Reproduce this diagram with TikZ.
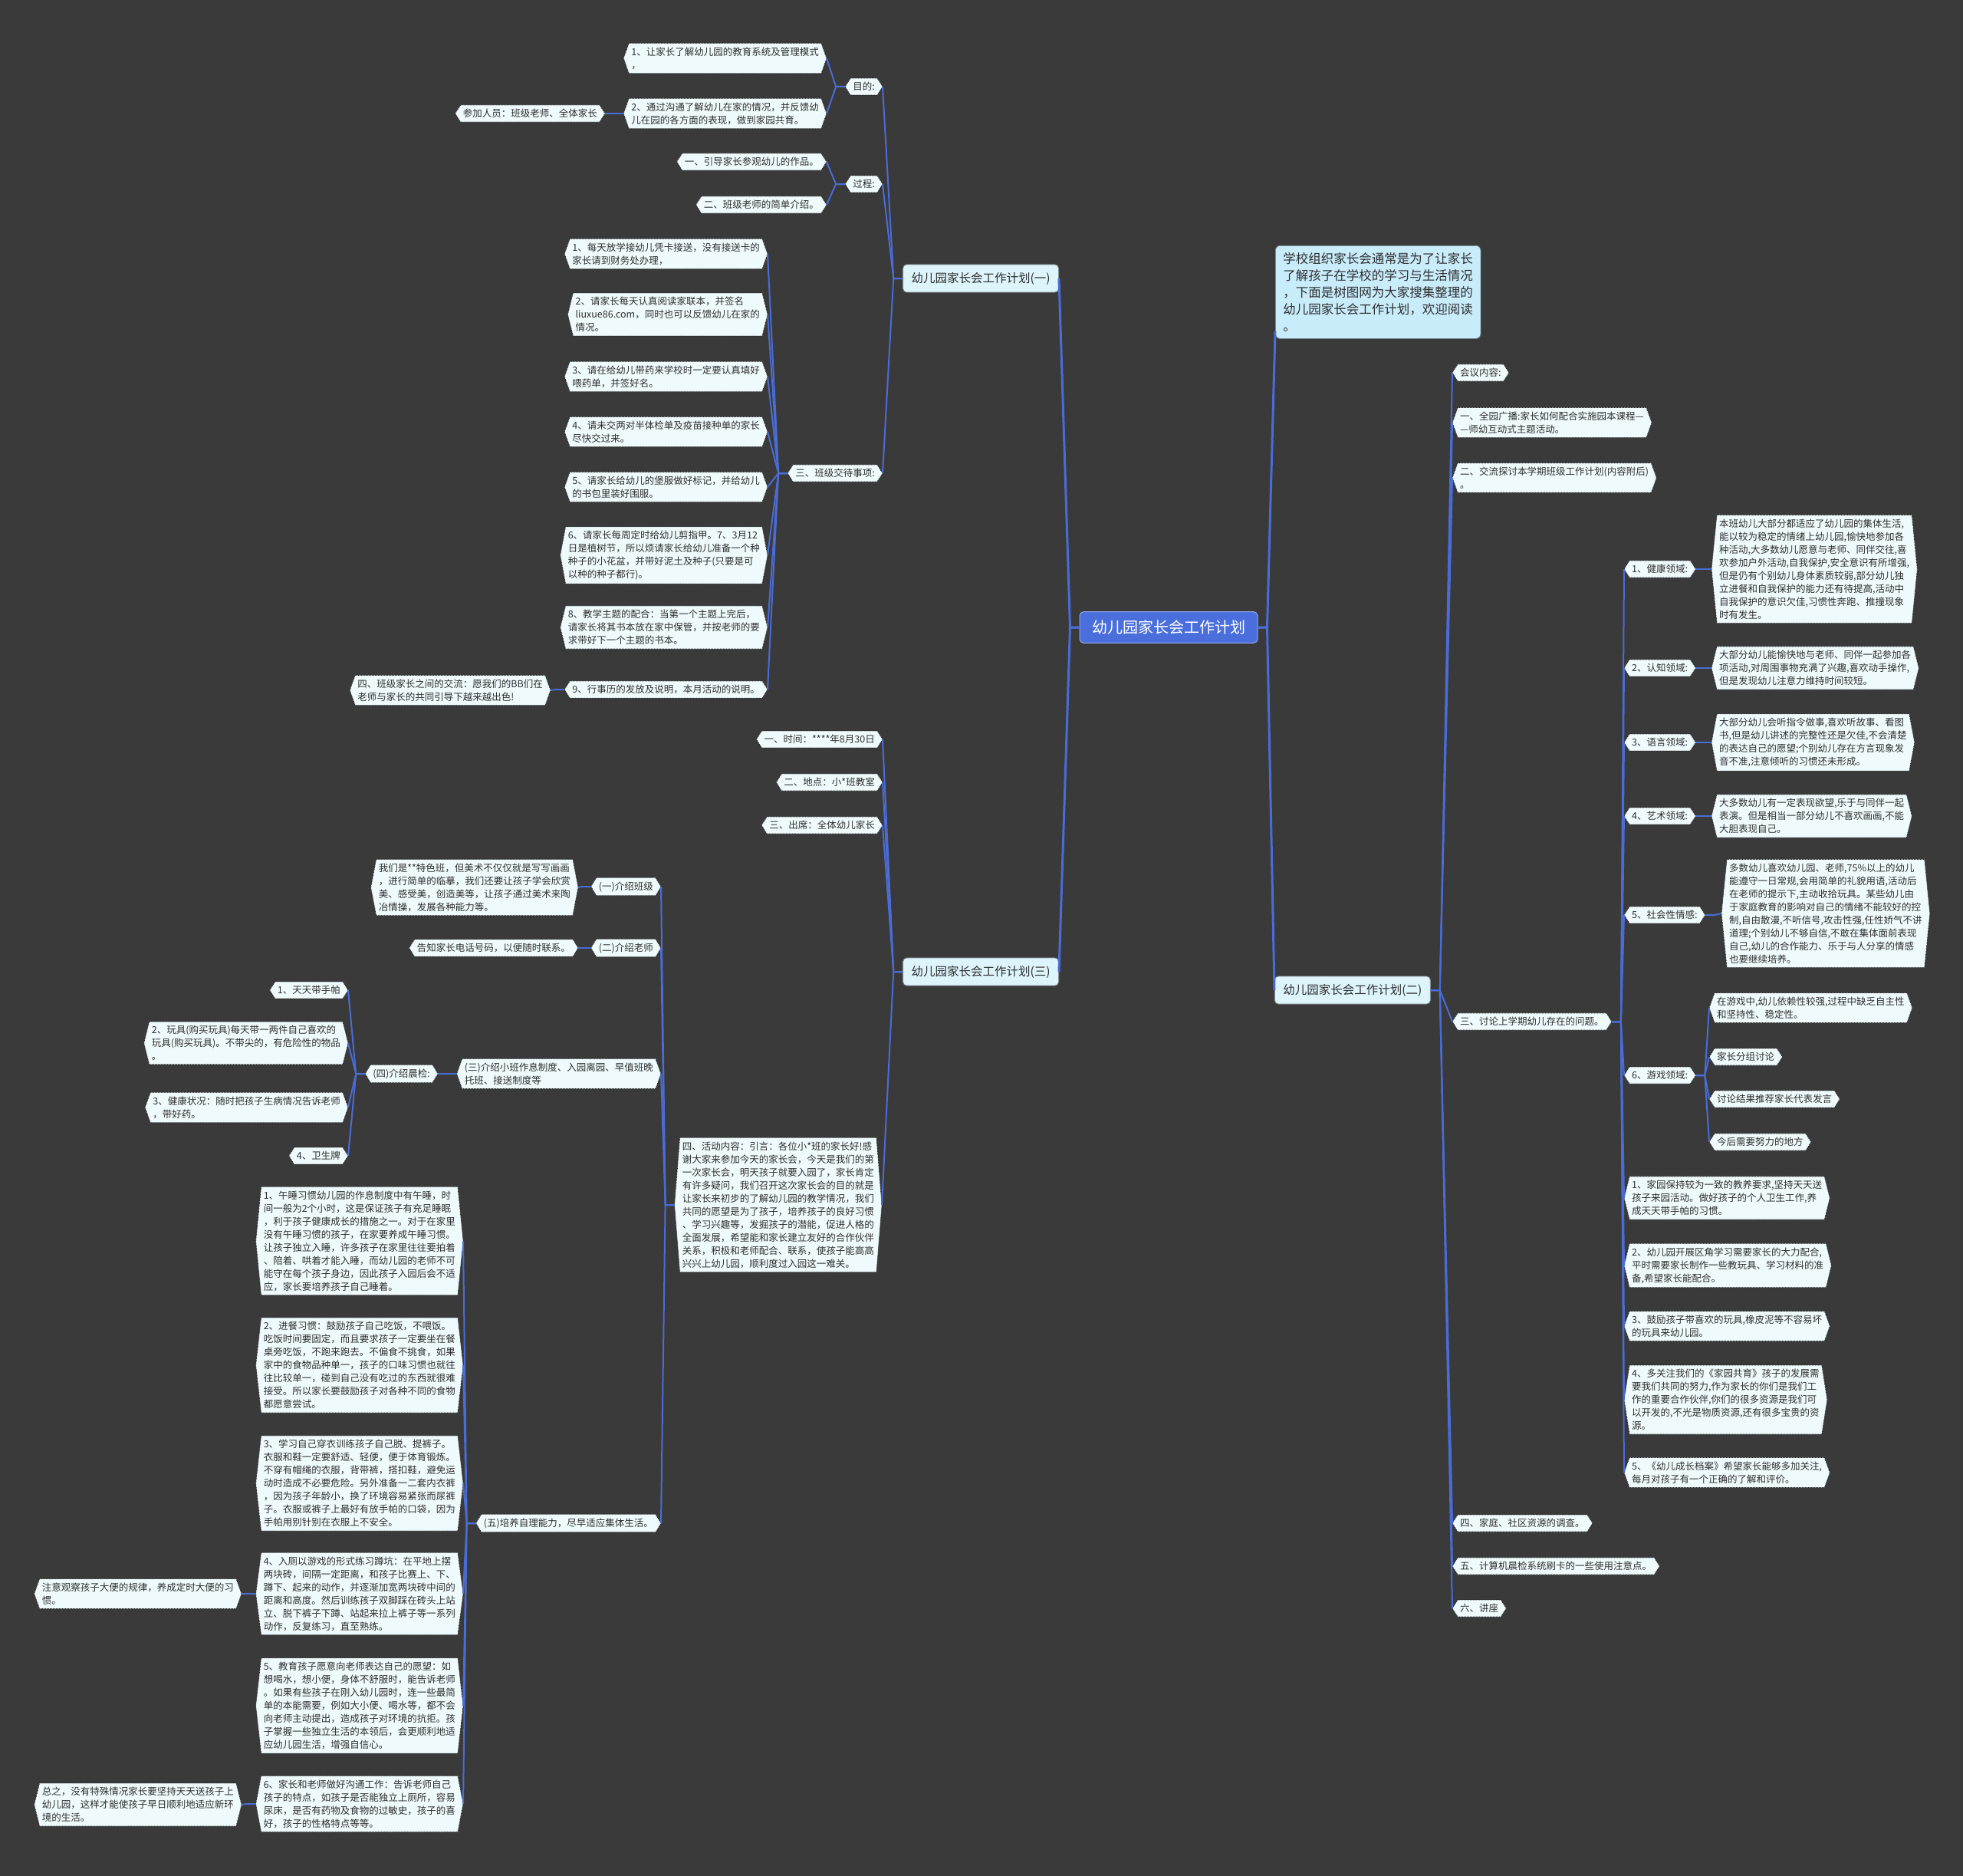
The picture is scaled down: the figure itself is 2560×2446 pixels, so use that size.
\documentclass[tikz,border=0pt]{standalone}
\usepackage{fontspec}
\newfontfamily\cjk{Noto Sans CJK SC}
\usetikzlibrary{calc}
\pgfdeclarelayer{back}
\pgfdeclarelayer{bg}
\pgfsetlayers{back,bg,main}
\definecolor{bgc}{HTML}{3A3A3A}
\definecolor{hexfill}{HTML}{EFFAFD}
\definecolor{hexdraw}{HTML}{202020}
\definecolor{linec}{HTML}{4A6CD6}
\definecolor{rootc}{HTML}{4A6FDC}
\definecolor{lonec}{HTML}{DDF4FB}
\definecolor{introc}{HTML}{C8ECFA}
\definecolor{textc}{HTML}{2E2E2E}
\tikzset{
  hx/.style={font=\cjk\fontsize{12.5}{17}\selectfont, text=textc, align=left,
    inner xsep=10pt, inner ysep=5pt,
    append after command={\pgfextra{\begin{pgfonlayer}{bg}
      \filldraw[fill=hexfill, draw=hexdraw, line width=0.8pt, dash pattern=on 1pt off 1pt]
        ([xshift=7pt]\tikzlastnode.north west) -- ([xshift=-7pt]\tikzlastnode.north east)
        -- (\tikzlastnode.east) -- ([xshift=-7pt]\tikzlastnode.south east)
        -- ([xshift=7pt]\tikzlastnode.south west) -- (\tikzlastnode.west) -- cycle;
      \end{pgfonlayer}}}},
  rootn/.style={fill=rootc, draw=rootc!60!white, line width=1pt, rounded corners=5pt,
    text=white, font=\cjk\fontsize{20}{24}\selectfont, inner xsep=16pt, inner ysep=11pt},
  lone/.style={fill=lonec, draw=lonec!60!black, line width=0.8pt, rounded corners=5pt,
    text=textc, font=\cjk\fontsize{15.5}{18}\selectfont, inner xsep=11pt, inner ysep=10pt},
  intron/.style={fill=introc, draw=introc!60!black, line width=0.8pt, rounded corners=6pt,
    text=textc, font=\cjk\fontsize{16.5}{22}\selectfont, align=left, inner xsep=10pt, inner ysep=9pt},
  conn/.style={draw=linec, line width=2pt, line join=round},
  rconn/.style={draw=linec, line width=3pt, line join=round}
}
\newcommand\lc[2]{\draw[conn] (#1.west) -- ++(-12pt,0) -- (#2.east);}
\newcommand\rc[2]{\draw[conn] (#1.east) -- ++(12pt,0) -- (#2.west);}
\begin{document}
\begin{tikzpicture}[x=1pt,y=-1pt]
\begin{pgfonlayer}{back}
\fill[bgc] (0,0) rectangle (2560,2446);
\end{pgfonlayer}
\useasboundingbox (0,0) rectangle (2560,2446);

% root and level 1
\node[rootn] (root) at (1524,818) {幼儿园家长会工作计划};
\node[lone, anchor=east] (p1) at (1381,363) {幼儿园家长会工作计划(一)};
\node[lone, anchor=east] (p3) at (1381,1267) {幼儿园家长会工作计划(三)};
\node[lone, anchor=west] (p2) at (1662,1291) {幼儿园家长会工作计划(二)};
\node[intron, anchor=north west] (intro) at (1663,320) {学校组织家长会通常是为了让家长\\了解孩子在学校的学习与生活情况\\，下面是树图网为大家搜集整理的\\幼儿园家长会工作计划，欢迎阅读\\。};

% ===== (一)
\node[hx, anchor=east] (a) at (1151,113) {目的:};
\node[hx, anchor=east] (a1) at (1078,76) {1、让家长了解幼儿园的教育系统及管理模式\\，};
\node[hx, anchor=east] (a2) at (1078,148) {2、通过沟通了解幼儿在家的情况，并反馈幼\\儿在园的各方面的表现，做到家园共育。};
\node[hx, anchor=east] (a2c) at (789,148) {参加人员：班级老师、全体家长};
\node[hx, anchor=east] (b) at (1151,240) {过程:};
\node[hx, anchor=east] (b1) at (1078,211) {一、引导家长参观幼儿的作品。};
\node[hx, anchor=east] (b2) at (1078,267) {二、班级老师的简单介绍。};
\node[hx, anchor=east] (c) at (1151,617) {三、班级交待事项:};
\node[hx, anchor=east] (c1) at (1001,331) {1、每天放学接幼儿凭卡接送，没有接送卡的\\家长请到财务处办理，};
\node[hx, anchor=east] (c2) at (1001,410) {2、请家长每天认真阅读家联本，并签名\\liuxue86.com，同时也可以反馈幼儿在家的\\情况。};
\node[hx, anchor=east] (c3) at (1001,491) {3、请在给幼儿带药来学校时一定要认真填好\\喂药单，并签好名。};
\node[hx, anchor=east] (c4) at (1001,563) {4、请未交两对半体检单及疫苗接种单的家长\\尽快交过来。};
\node[hx, anchor=east] (c5) at (1001,635) {5、请家长给幼儿的堡服做好标记，并给幼儿\\的书包里装好围服。};
\node[hx, anchor=east] (c6) at (1001,724) {6、请家长每周定时给幼儿剪指甲。7、3月12\\日是植树节，所以烦请家长给幼儿准备一个种\\种子的小花盆，并带好泥土及种子(只要是可\\以种的种子都行)。};
\node[hx, anchor=east] (c7) at (1001,818) {8、教学主题的配合：当第一个主题上完后，\\请家长将其书本放在家中保管，并按老师的要\\求带好下一个主题的书本。};
\node[hx, anchor=east] (c8) at (1001,899) {9、行事历的发放及说明，本月活动的说明。};
\node[hx, anchor=east] (c8c) at (718,900) {四、班级家长之间的交流：愿我们的BB们在\\老师与家长的共同引导下越来越出色!};

% ===== (三)
\node[hx, anchor=east] (t1) at (1151,964) {一、时间：****年8月30日};
\node[hx, anchor=east] (t2) at (1151,1020) {二、地点：小*班教室};
\node[hx, anchor=east] (t3) at (1151,1076) {三、出席：全体幼儿家长};
\node[hx, anchor=east] (t4) at (1150,1571) {四、活动内容：引言：各位小*班的家长好!感\\谢大家来参加今天的家长会，今天是我们的第\\一次家长会，明天孩子就要入园了，家长肯定\\有许多疑问，我们召开这次家长会的目的就是\\让家长来初步的了解幼儿园的教学情况，我们\\共同的愿望是为了孩子，培养孩子的良好习惯\\、学习兴趣等，发掘孩子的潜能，促进人格的\\全面发展，希望能和家长建立友好的合作伙伴\\关系，积极和老师配合、联系，使孩子能高高\\兴兴上幼儿园，顺利度过入园这一难关。};
\node[hx, anchor=east] (d1) at (862,1156) {(一)介绍班级};
\node[hx, anchor=east] (d1c) at (754,1157) {我们是**特色班，但美术不仅仅就是写写画画\\，进行简单的临摹，我们还要让孩子学会欣赏\\美、感受美，创造美等，让孩子通过美术来陶\\冶情操，发展各种能力等。};
\node[hx, anchor=east] (d2) at (862,1236) {(二)介绍老师};
\node[hx, anchor=east] (d2c) at (754,1236) {告知家长电话号码，以便随时联系。};
\node[hx, anchor=east] (d3) at (862,1400) {(三)介绍小班作息制度、入园离园、早值班晚\\托班、接送制度等};
\node[hx, anchor=east] (d3c) at (571,1400) {(四)介绍晨检:};
\node[hx, anchor=east] (e1) at (454,1291) {1、天天带手帕};
\node[hx, anchor=east] (e2) at (454,1360) {2、玩具(购买玩具)每天带一两件自己喜欢的\\玩具(购买玩具)。不带尖的，有危险性的物品\\。};
\node[hx, anchor=east] (e3) at (454,1444) {3、健康状况：随时把孩子生病情况告诉老师\\，带好药。};
\node[hx, anchor=east] (e4) at (454,1507) {4、卫生牌};
\node[hx, anchor=east] (d5) at (862,1986) {(五)培养自理能力，尽早适应集体生活。};
\node[hx, anchor=east] (f1) at (604,1618) {1、午睡习惯幼儿园的作息制度中有午睡，时\\间一般为2个小时，这是保证孩子有充足睡眠\\，利于孩子健康成长的措施之一。对于在家里\\没有午睡习惯的孩子，在家要养成午睡习惯。\\让孩子独立入睡，许多孩子在家里往往要拍着\\、陪着、哄着才能入睡，而幼儿园的老师不可\\能守在每个孩子身边，因此孩子入园后会不适\\应，家长要培养孩子自己睡着。};
\node[hx, anchor=east] (f2) at (604,1780) {2、进餐习惯：鼓励孩子自己吃饭，不喂饭。\\吃饭时间要固定，而且要求孩子一定要坐在餐\\桌旁吃饭，不跑来跑去。不偏食不挑食，如果\\家中的食物品种单一，孩子的口味习惯也就往\\往比较单一，碰到自己没有吃过的东西就很难\\接受。所以家长要鼓励孩子对各种不同的食物\\都愿意尝试。};
\node[hx, anchor=east] (f3) at (604,1934) {3、学习自己穿衣训练孩子自己脱、提裤子。\\衣服和鞋一定要舒适、轻便，便于体育锻炼。\\不穿有帽绳的衣服，背带裤，搭扣鞋，避免运\\动时造成不必要危险。另外准备一二套内衣裤\\，因为孩子年龄小，换了环境容易紧张而尿裤\\子。衣服或裤子上最好有放手帕的口袋，因为\\手帕用别针别在衣服上不安全。};
\node[hx, anchor=east] (f4) at (604,2078) {4、入厕以游戏的形式练习蹲坑：在平地上摆\\两块砖，间隔一定距离，和孩子比赛上、下、\\蹲下、起来的动作，并逐渐加宽两块砖中间的\\距离和高度。然后训练孩子双脚踩在砖头上站\\立、脱下裤子下蹲、站起来拉上裤子等一系列\\动作，反复练习，直至熟练。};
\node[hx, anchor=east] (f5) at (604,2224) {5、教育孩子愿意向老师表达自己的愿望：如\\想喝水，想小便，身体不舒服时，能告诉老师\\。如果有些孩子在刚入幼儿园时，连一些最简\\单的本能需要，例如大小便、喝水等，都不会\\向老师主动提出，造成孩子对环境的抗拒。孩\\子掌握一些独立生活的本领后，会更顺利地适\\应幼儿园生活，增强自信心。};
\node[hx, anchor=east] (f6) at (604,2352) {6、家长和老师做好沟通工作：告诉老师自己\\孩子的特点，如孩子是否能独立上厕所，容易\\尿床，是否有药物及食物的过敏史，孩子的喜\\好，孩子的性格特点等等。};
\node[hx, anchor=east] (f4c) at (315,2078) {注意观察孩子大便的规律，养成定时大便的习\\惯。};
\node[hx, anchor=east] (f6c) at (315,2353) {总之，没有特殊情况家长要坚持天天送孩子上\\幼儿园，这样才能使孩子早日顺利地适应新环\\境的生活。};

% ===== (二)
\node[hx, anchor=west] (r0) at (1894,486) {会议内容:};
\node[hx, anchor=west] (r1) at (1894,551) {一、全园广播:家长如何配合实施园本课程—\\—师幼互动式主题活动。};
\node[hx, anchor=west] (r2) at (1894,623) {二、交流探讨本学期班级工作计划(内容附后)\\。};
\node[hx, anchor=west] (r3) at (1894,1332) {三、讨论上学期幼儿存在的问题。};
\node[hx, anchor=west] (r4) at (1894,1986) {四、家庭、社区资源的调查。};
\node[hx, anchor=west] (r5) at (1894,2042) {五、计算机晨检系统刷卡的一些使用注意点。};
\node[hx, anchor=west] (r6) at (1894,2097) {六、讲座};
\node[hx, anchor=west] (g1) at (2118,742) {1、健康领域:};
\node[hx, anchor=west] (g1t) at (2232,742) {本班幼儿大部分都适应了幼儿园的集体生活,\\能以较为稳定的情绪上幼儿园,愉快地参加各\\种活动,大多数幼儿愿意与老师、同伴交往,喜\\欢参加户外活动,自我保护,安全意识有所增强,\\但是仍有个别幼儿身体素质较弱,部分幼儿独\\立进餐和自我保护的能力还有待提高,活动中\\自我保护的意识欠佳,习惯性奔跑、推撞现象\\时有发生。};
\node[hx, anchor=west] (g2) at (2118,871) {2、认知领域:};
\node[hx, anchor=west] (g2t) at (2232,871) {大部分幼儿能愉快地与老师、同伴一起参加各\\项活动,对周围事物充满了兴趣,喜欢动手操作,\\但是发现幼儿注意力维持时间较短。};
\node[hx, anchor=west] (g3) at (2118,968) {3、语言领域:};
\node[hx, anchor=west] (g3t) at (2232,968) {大部分幼儿会听指令做事,喜欢听故事、看图\\书,但是幼儿讲述的完整性还是欠佳,不会清楚\\的表达自己的愿望;个别幼儿存在方言现象发\\音不准,注意倾听的习惯还未形成。};
\node[hx, anchor=west] (g4) at (2118,1064) {4、艺术领域:};
\node[hx, anchor=west] (g4t) at (2232,1064) {大多数幼儿有一定表现欲望,乐于与同伴一起\\表演。但是相当一部分幼儿不喜欢画画,不能\\大胆表现自己。};
\node[hx, anchor=west] (g5) at (2118,1193) {5、社会性情感:};
\node[hx, anchor=west] (g5t) at (2245,1191) {多数幼儿喜欢幼儿园、老师,75\%以上的幼儿\\能遵守一日常规,会用简单的礼貌用语,活动后\\在老师的提示下,主动收拾玩具。某些幼儿由\\于家庭教育的影响对自己的情绪不能较好的控\\制,自由散漫,不听信号,攻击性强,任性娇气不讲\\道理;个别幼儿不够自信,不敢在集体面前表现\\自己,幼儿的合作能力、乐于与人分享的情感\\也要继续培养。};
\node[hx, anchor=west] (g6) at (2118,1402) {6、游戏领域:};
\node[hx, anchor=west] (g6a) at (2229,1314) {在游戏中,幼儿依赖性较强,过程中缺乏自主性\\和坚持性、稳定性。};
\node[hx, anchor=west] (g6b) at (2229,1378) {家长分组讨论};
\node[hx, anchor=west] (g6c) at (2229,1433) {讨论结果推荐家长代表发言};
\node[hx, anchor=west] (g6d) at (2229,1489) {今后需要努力的地方};
\node[hx, anchor=west] (h1) at (2118,1562) {1、家园保持较为一致的教养要求,坚持天天送\\孩子来园活动。做好孩子的个人卫生工作,养\\成天天带手帕的习惯。};
\node[hx, anchor=west] (h2) at (2118,1650) {2、幼儿园开展区角学习需要家长的大力配合,\\平时需要家长制作一些教玩具、学习材料的准\\备,希望家长能配合。};
\node[hx, anchor=west] (h3) at (2118,1729) {3、鼓励孩子带喜欢的玩具,橡皮泥等不容易坏\\的玩具来幼儿园。};
\node[hx, anchor=west] (h4) at (2118,1825) {4、多关注我们的《家园共育》孩子的发展需\\要我们共同的努力,作为家长的你们是我们工\\作的重要合作伙伴,你们的很多资源是我们可\\以开发的,不光是物质资源,还有很多宝贵的资\\源。};
\node[hx, anchor=west] (h5) at (2118,1920) {5、《幼儿成长档案》希望家长能够多加关注,\\每月对孩子有一个正确的了解和评价。};

% ===== connectors
\draw[rconn] (root.west) -- ++(-12pt,0) -- (p1.east);
\draw[rconn] (root.west) -- ++(-12pt,0) -- (p3.east);
\draw[rconn] (root.east) -- ++(12pt,0) -- ([yshift=10pt]intro.south west);
\draw[rconn] (root.east) -- ++(12pt,0) -- (p2.west);

\foreach \c in {a,b,c} {\lc{p1}{\c}}
\foreach \c in {a1,a2} {\lc{a}{\c}}
\lc{a2}{a2c}
\foreach \c in {b1,b2} {\lc{b}{\c}}
\foreach \c in {c1,c2,c3,c4,c5,c6,c7,c8} {\lc{c}{\c}}
\lc{c8}{c8c}

\foreach \c in {t1,t2,t3,t4} {\lc{p3}{\c}}
\foreach \c in {d1,d2,d3,d5} {\lc{t4}{\c}}
\lc{d1}{d1c}
\lc{d2}{d2c}
\lc{d3}{d3c}
\foreach \c in {e1,e2,e3,e4} {\lc{d3c}{\c}}
\foreach \c in {f1,f2,f3,f4,f5,f6} {\lc{d5}{\c}}
\lc{f4}{f4c}
\lc{f6}{f6c}

\foreach \c in {r0,r1,r2,r3,r4,r5,r6} {\rc{p2}{\c}}
\foreach \c in {g1,g2,g3,g4,g5,g6,h1,h2,h3,h4,h5} {\rc{r3}{\c}}
\rc{g1}{g1t}
\rc{g2}{g2t}
\rc{g3}{g3t}
\rc{g4}{g4t}
\rc{g5}{g5t}
\foreach \c in {g6a,g6b,g6c,g6d} {\rc{g6}{\c}}
\end{tikzpicture}
\end{document}
